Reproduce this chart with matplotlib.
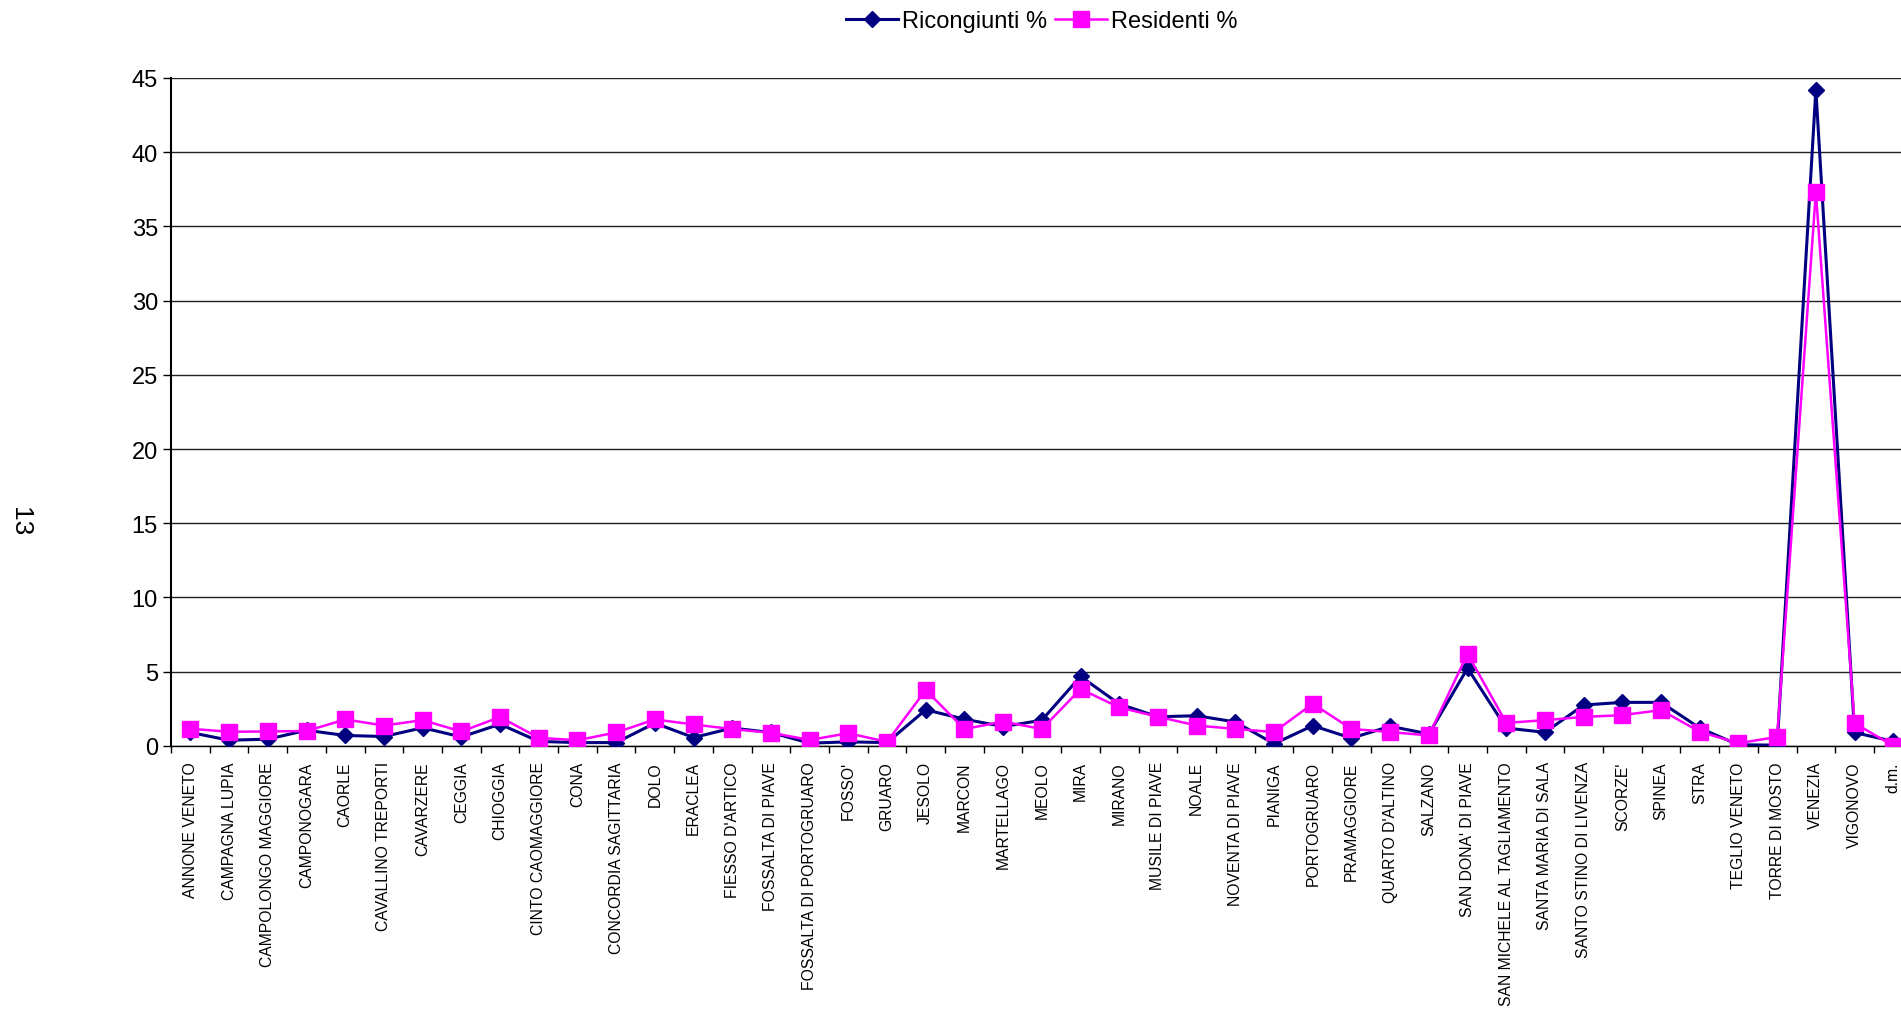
import matplotlib.pyplot as plt
import numpy as np

plt.rcParams["font.family"] = ["Liberation Sans", "DejaVu Sans"]

comuni = [
    "ANNONE VENETO", "CAMPAGNA LUPIA", "CAMPOLONGO MAGGIORE", "CAMPONOGARA",
    "CAORLE", "CAVALLINO TREPORTI", "CAVARZERE", "CEGGIA", "CHIOGGIA",
    "CINTO CAOMAGGIORE", "CONA", "CONCORDIA SAGITTARIA", "DOLO", "ERACLEA",
    "FIESSO D'ARTICO", "FOSSALTA DI PIAVE", "FOSSALTA DI PORTOGRUARO", "FOSSO'",
    "GRUARO", "JESOLO", "MARCON", "MARTELLAGO", "MEOLO", "MIRA", "MIRANO",
    "MUSILE DI PIAVE", "NOALE", "NOVENTA DI PIAVE", "PIANIGA", "PORTOGRUARO",
    "PRAMAGGIORE", "QUARTO D'ALTINO", "SALZANO", "SAN DONA' DI PIAVE",
    "SAN MICHELE AL TAGLIAMENTO", "SANTA MARIA DI SALA", "SANTO STINO DI LIVENZA",
    "SCORZE'", "SPINEA", "STRA", "TEGLIO VENETO", "TORRE DI MOSTO", "VENEZIA",
    "VIGONOVO", "d.m.",
]

ricongiunti = [
    0.9, 0.38, 0.45, 1.05, 0.7, 0.63, 1.22, 0.6, 1.46,
    0.3, 0.22, 0.22, 1.53, 0.56, 1.2, 0.9, 0.18, 0.27,
    0.22, 2.43, 1.8, 1.3, 1.73, 4.68, 2.82, 1.96, 2.03,
    1.61, 0.14, 1.36, 0.52, 1.32, 0.8, 5.23, 1.2, 0.91,
    2.75, 2.93, 2.93, 1.2, 0.07, 0.05, 44.2, 0.9, 0.3,
]

residenti = [
    1.15, 0.95, 0.97, 1.0, 1.78, 1.37, 1.73, 0.97, 1.94,
    0.54, 0.38, 0.9, 1.78, 1.44, 1.13, 0.88, 0.4, 0.85,
    0.27, 3.76, 1.13, 1.64, 1.13, 3.83, 2.59, 1.96, 1.37,
    1.14, 0.93, 2.84, 1.14, 0.93, 0.7, 6.2, 1.55, 1.73,
    1.95, 2.07, 2.41, 0.95, 0.18, 0.6, 37.3, 1.53, 0.0,
]

x = np.arange(len(comuni))

fig = plt.figure(figsize=(19.01, 10.12), dpi=100)
ax = fig.add_axes([0.09, 0.262, 0.91, 0.660])

ax.plot(x, ricongiunti, color="#000080", lw=2.2, marker="D", markersize=8.5,
        label="Ricongiunti %", zorder=3)
ax.plot(x, residenti, color="#FF00FF", lw=1.8, marker="s", markersize=11,
        label="Residenti %", zorder=4)

ax.set_xlim(-0.5, 44.2)
ax.set_ylim(0, 45)
ax.set_yticks(range(0, 46, 5))
ax.yaxis.grid(True, color="#202020", lw=1)
ax.set_axisbelow(True)

ax.set_xticks(x)
ax.set_xticklabels(comuni, rotation=90, fontsize=11.3)
ax.set_xticks(np.arange(-0.5, 44.5, 1), minor=True)
ax.tick_params(axis="x", which="major", length=0, pad=11)
ax.tick_params(axis="x", which="minor", length=5, width=1, direction="out")
ax.tick_params(axis="y", labelsize=17, length=6, width=1)

for side in ["top", "right"]:
    ax.spines[side].set_visible(False)
ax.spines["left"].set_linewidth(1.5)
ax.spines["bottom"].set_linewidth(1)

fig.legend(loc="center", bbox_to_anchor=(0.548, 0.978), ncol=2, frameon=False,
           fontsize=17, handlelength=2.2, columnspacing=0.3, handletextpad=0.2)

fig.text(0.0105, 0.485, "13", rotation=-90, fontsize=19, ha="center", va="center")

fig.savefig("out.png", dpi=100)
